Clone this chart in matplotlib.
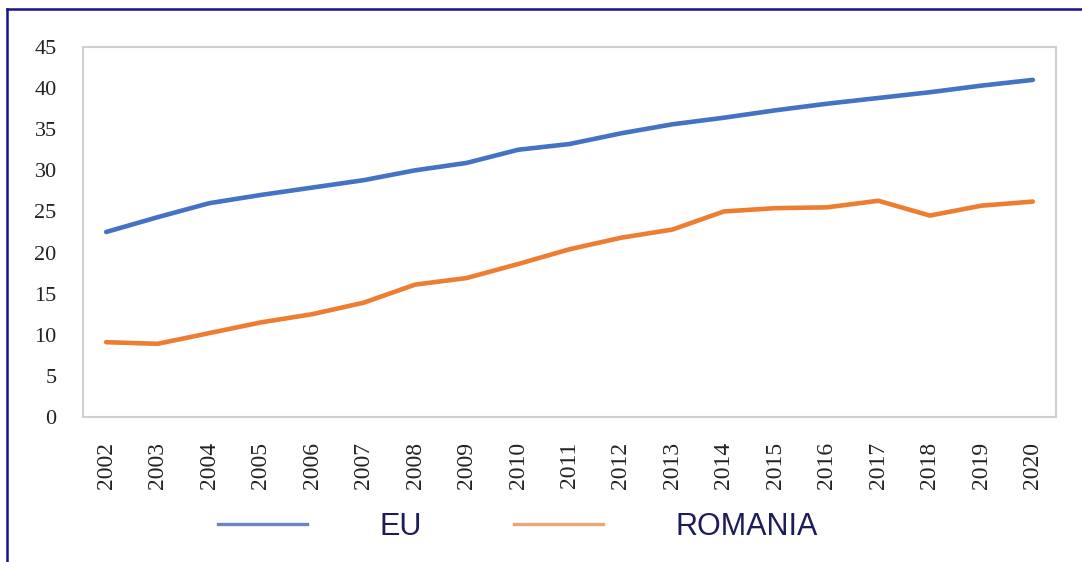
import matplotlib
matplotlib.use("Agg")
import matplotlib.pyplot as plt
from matplotlib.lines import Line2D

years = list(range(2002, 2021))
eu = [22.5, 24.3, 26.0, 27.0, 27.9, 28.8, 30.0, 30.9, 32.5, 33.2,
      34.5, 35.6, 36.4, 37.3, 38.1, 38.8, 39.5, 40.3, 41.0]
romania = [9.1, 8.9, 10.2, 11.5, 12.5, 13.9, 16.1, 16.9, 18.6, 20.4,
           21.8, 22.8, 25.0, 25.4, 25.5, 26.3, 24.5, 25.7, 26.2]
yticks = [0, 5, 10, 15, 20, 25, 30, 35, 40, 45]

BLUE, ORANGE = "#4472c4", "#ed7d31"
NAVY = "#1c1c5a"

fig = plt.figure(figsize=(10.82, 5.62), dpi=100)
ax = fig.add_axes([83/1082, 1-417/562, (1056-83)/1082, (417-47)/562])

x = range(len(years))
ax.plot(x, eu, color=BLUE, lw=3.3, solid_capstyle="round", label="EU")
ax.plot(x, romania, color=ORANGE, lw=3.3, solid_capstyle="round", label="ROMANIA")

ax.set_xlim(-0.45, len(years) - 1 + 0.45)
ax.set_ylim(0, 45)
ax.set_yticks(yticks)
ax.set_xticks(list(x))
ax.set_xticklabels([str(y) for y in years], rotation=90, family="Liberation Serif",
                   fontsize=17, color="#222222")
ax.set_yticklabels([str(v) for v in yticks], family="Liberation Serif",
                   fontsize=16, color="#222222")
ax.tick_params(length=0, pad=19)
ax.tick_params(axis="x", pad=18)
for s in ax.spines.values():
    s.set_color("#d0d0d0"); s.set_linewidth(1.5)

handles = [Line2D([], [], color="#6b83c9", lw=2.4), Line2D([], [], color="#eea575", lw=2.4)]
leg = ax.legend(handles, ["EU", "ROMANIA"], ncol=2, frameon=False,
                loc="center left", bbox_to_anchor=(135/973, -0.297),
                prop={"family": "Liberation Sans", "size": 22},
                handlelength=2.9, handletextpad=2.4, columnspacing=3.0,
                borderaxespad=0, borderpad=0)
for t in leg.get_texts():
    t.set_color(NAVY)

# navy frame visible on the left and top of the picture
fig.add_artist(Line2D([7/1082, 7/1082], [0, 1-8.5/562], color="#14148c", lw=1.8,
                      transform=fig.transFigure))
fig.add_artist(Line2D([7/1082, 1], [1-8.5/562, 1-8.5/562], color="#14148c", lw=1.8,
                      transform=fig.transFigure))

fig.savefig("out.png", dpi=100)
